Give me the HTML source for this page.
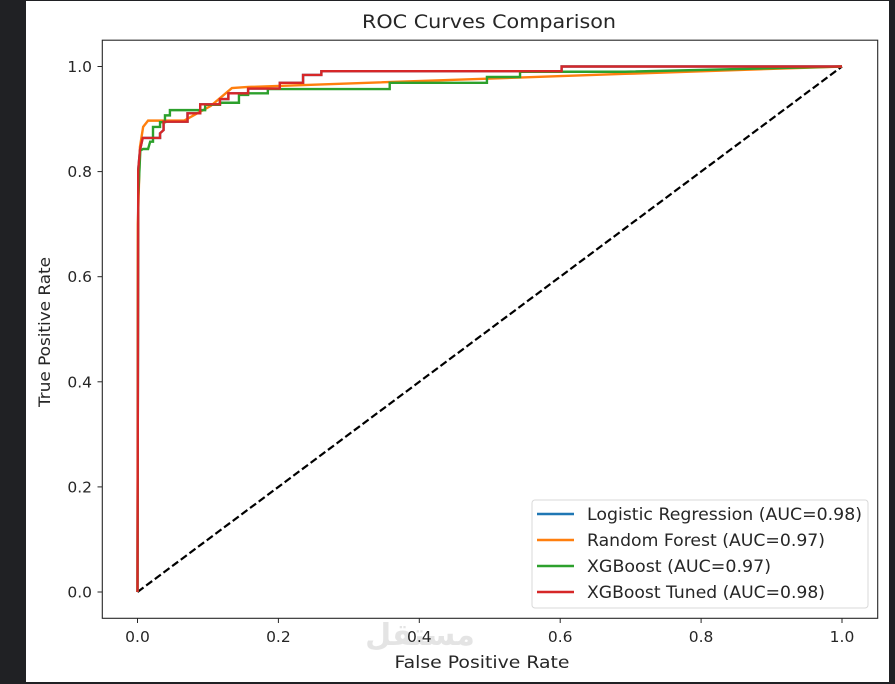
<!DOCTYPE html>
<html><head><meta charset="utf-8"><style>
html,body{margin:0;padding:0;background:#202124;}
#wrap{position:relative;width:895px;height:684px;background:#202124;overflow:hidden;}
svg{position:absolute;left:0;top:0;}
text{font-family:"DejaVu Sans","Liberation Sans",sans-serif;fill:#262626;}
</style></head><body>
<div id="wrap">
<svg id="chart" width="895" height="684"></svg>
</div>
<script>
const xTicks=[0.0,0.2,0.4,0.6,0.8,1.0];
const yTicks=[0.0,0.2,0.4,0.6,0.8,1.0];
const seriesNames=["Logistic Regression (AUC=0.98)","Random Forest (AUC=0.97)","XGBoost (AUC=0.97)","XGBoost Tuned (AUC=0.98)"];
const seriesColors=["#1f77b4","#ff7f0e","#2ca02c","#d62728"];
const lrFpr=[0,0.001,0.001,0.0035,0.0074,0.032,0.032,0.037,0.037,0.071,0.071,0.089,0.089,0.117,0.117,0.129,0.129,0.157,0.157,0.202,0.202,0.235,0.235,0.261,0.261,0.602,0.602,1];
const lrTpr=[0,0.746,0.803,0.841,0.864,0.864,0.873,0.879,0.895,0.895,0.911,0.911,0.928,0.928,0.938,0.938,0.949,0.949,0.958,0.958,0.969,0.969,0.984,0.984,0.991,0.991,1,1];
const rfFpr=[0,0.0005,0.0035,0.008,0.015,0.066,0.104,0.134,0.157,0.692,1];
const rfTpr=[0,0.70,0.847,0.885,0.897,0.897,0.925,0.959,0.961,0.986,1];
const xgFpr=[0,0.001,0.004,0.008,0.015,0.018,0.022,0.022,0.032,0.032,0.039,0.039,0.046,0.046,0.096,0.096,0.117,0.117,0.144,0.144,0.157,0.157,0.185,0.185,0.358,0.358,0.496,0.496,0.543,0.543,0.692,1];
const xgTpr=[0,0.75,0.84,0.843,0.843,0.857,0.857,0.885,0.885,0.894,0.894,0.907,0.907,0.917,0.917,0.927,0.927,0.931,0.931,0.946,0.946,0.949,0.949,0.957,0.957,0.969,0.969,0.98,0.98,0.99,0.99,1];
const xtFpr=[0,0.001,0.001,0.0035,0.0074,0.032,0.032,0.037,0.037,0.071,0.071,0.089,0.089,0.117,0.117,0.129,0.129,0.157,0.157,0.202,0.202,0.235,0.235,0.261,0.261,0.602,0.602,1];
const xtTpr=[0,0.746,0.803,0.841,0.864,0.864,0.873,0.879,0.895,0.895,0.911,0.911,0.928,0.928,0.938,0.938,0.949,0.949,0.958,0.958,0.969,0.969,0.984,0.984,0.991,0.991,1,1];
const diagX=[0,1];
const diagY=[0,1];

const NS="http://www.w3.org/2000/svg";
const svg=document.getElementById('chart');
const X=v=>137.5+v*704.5;
const Y=v=>592-v*525.5;
function mk(tag,attrs,parent){const e=document.createElementNS(NS,tag);for(const k in attrs)e.setAttribute(k,attrs[k]);(parent||svg).appendChild(e);return e;}

const bg=mk('rect',{x:26,y:1,width:863,height:681,fill:'#ffffff'});



const title=mk('text',{x:489,y:28,'text-anchor':'middle','font-size':'19',textLength:254,lengthAdjust:'spacingAndGlyphs'});
title.textContent='ROC Curves Comparison';



const wm=mk('text',{x:420,y:645,'text-anchor':'middle','font-size':'30','font-weight':'bold',style:'fill:#e4e4e4;font-family:"DejaVu Sans",sans-serif'});
wm.textContent='مستقل';



xTicks.forEach(t=>{
  const l=mk('line',{x1:X(t),x2:X(t),y1:618.3,y2:623,stroke:'#262626','stroke-width':1});
  
  
  const tx=mk('text',{x:X(t),y:642,'text-anchor':'middle','font-size':'15.5'});
  tx.textContent=t.toFixed(1);
  
  
});
yTicks.forEach(t=>{
  const l=mk('line',{x1:97.5,x2:102.3,y1:Y(t),y2:Y(t),stroke:'#262626','stroke-width':1});
  
  
  const tx=mk('text',{x:92,y:Y(t)+5.5,'text-anchor':'end','font-size':'15.5'});
  tx.textContent=t.toFixed(1);
  
  
});

const xl=mk('text',{x:482,y:668,'text-anchor':'middle','font-size':'16.5',textLength:175,lengthAdjust:'spacingAndGlyphs'});
xl.textContent='False Positive Rate';


const yl=mk('text',{x:0,y:0,'text-anchor':'middle','font-size':'16',textLength:150,lengthAdjust:'spacingAndGlyphs',transform:'translate(50,332) rotate(-90)'});
yl.textContent='True Positive Rate';



function path(xs,ys){return xs.map((v,i)=>(i?'L':'M')+X(v).toFixed(2)+','+Y(ys[i]).toFixed(2)).join(' ');}

const diag=mk('path',{d:path(diagX,diagY),fill:'none',stroke:'#000','stroke-width':2.2,'stroke-dasharray':'7.5,3.3'});



const series=[[lrFpr,lrTpr],[rfFpr,rfTpr],[xgFpr,xgTpr],[xtFpr,xtTpr]];
const sNames=['roc-logistic-regression','roc-random-forest','roc-xgboost','roc-xgboost-tuned'];
series.forEach((s,i)=>{
  const p=mk('path',{d:path(s[0],s[1]),fill:'none',stroke:seriesColors[i],'stroke-width':2.4,'stroke-linejoin':'miter'});
  
  
});

const frame=mk('rect',{x:102.3,y:40.2,width:775.4,height:578.1,fill:'none',stroke:'#262626','stroke-width':1.1});



const legWidths=[275,238,184,238];
const leg=mk('g',{});


mk('rect',{x:532,y:500,width:336,height:108,rx:3,fill:'#ffffff','fill-opacity':0.85,stroke:'#d9d9d9','stroke-width':1},leg);
seriesNames.forEach((n,i)=>{
  const y=514+i*26;
  const e=mk('g',{},leg);
  
  
  mk('line',{x1:537,x2:574,y1:y,y2:y,stroke:seriesColors[i],'stroke-width':2.4},e);
  const t=mk('text',{x:587,y:y+6,'font-size':'16.5',textLength:legWidths[i],lengthAdjust:'spacingAndGlyphs'},e);
  t.textContent=n;
});
</script>
</body></html>
